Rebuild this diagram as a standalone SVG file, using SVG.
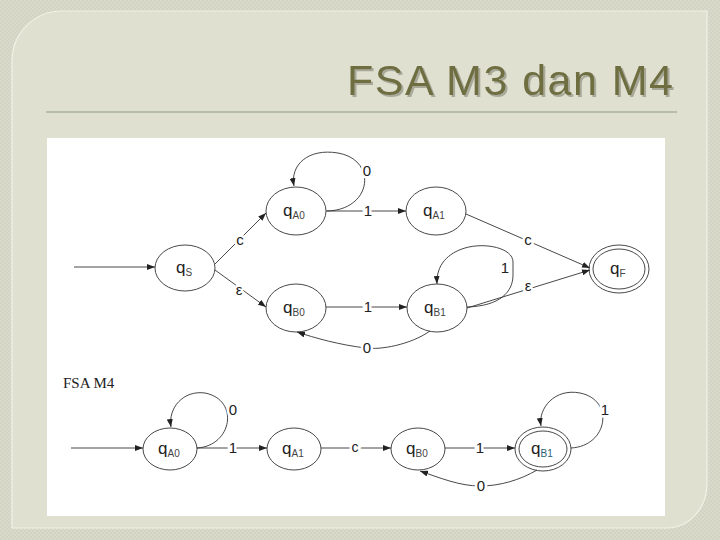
<svg xmlns="http://www.w3.org/2000/svg" width="720" height="540" viewBox="0 0 720 540">
<defs>
<pattern id="tex" width="4" height="4" patternUnits="userSpaceOnUse">
<rect width="4" height="4" fill="#d3d3c3"/>
<rect x="0" y="0" width="2" height="2" fill="#dadacb"/>
<rect x="2" y="2" width="2" height="2" fill="#dadacb"/>
</pattern>
<marker id="ah" markerUnits="userSpaceOnUse" markerWidth="8" markerHeight="6" refX="8" refY="3" orient="auto">
<path d="M0,0 L8,3 L0,6 z" fill="#222"/>
</marker>
<filter id="sh" x="-5%" y="-20%" width="110%" height="150%">
<feDropShadow dx="2" dy="2" stdDeviation="0.4" flood-color="#a9a999" flood-opacity="1"/>
</filter>
</defs>
<style>
.n{fill:none;stroke:#333;stroke-width:0.9}
.e{fill:none;stroke:#333;stroke-width:0.9;marker-end:url(#ah)}
.q{font-family:"Liberation Sans",Arial,sans-serif;font-size:17px;fill:#222}
.s{font-size:10px;fill:#444}
.t{font-family:"Liberation Sans",Arial,sans-serif;font-size:15px;fill:#222;text-anchor:middle}
.h{stroke:#fff;stroke-width:5;paint-order:stroke}
</style>
<rect width="720" height="540" fill="url(#tex)"/>
<path d="M62,11 H707 V484 A40 44 0 0 1 667,528 H12 V61 A50 50 0 0 1 62,11 Z" fill="#e0e0d1" stroke="#f2f2e4" stroke-width="1.2"/>
<g id="title">
<text x="673" y="95" text-anchor="end" font-family="Liberation Sans,Arial,sans-serif" font-size="43" textLength="326" fill="#6e6e40" filter="url(#sh)">FSA M3 dan M4</text>
</g>
<line x1="46" y1="112" x2="677" y2="112" stroke="#8c9c84" stroke-width="1.2"/>
<rect x="47" y="138" width="618" height="378" fill="#ffffff"/>

<g id="connectors">
<path class="e" d="M74,267 L155,267"/>
<path class="e" d="M215,264 L266,213"/>
<path class="e" d="M215,270 L266,307"/>
<path class="e" d="M327,211 C372,210 378,160 338,153 C308,148 290,165 294,186"/>
<path class="e" d="M326,211 L406,211"/>
<path class="e" d="M466,214 L590,268"/>
<path class="e" d="M326,307 L407,307"/>
<path class="e" d="M430,331 C410,345 380,350 366,348 C340,345 315,338 297,332"/>
<path class="e" d="M467,307 C500,306 513,292 513,275 L513,262 C513,248 485,242 465,248 C448,253 436,265 437,284"/>
<path class="e" d="M467,308 L590,270"/>

<path class="e" d="M71,448 L143,448"/>
<path class="e" d="M197,448 C232,446 240,400 205,393 C183,390 168,408 171,427"/>
<path class="e" d="M197,448 L267,448"/>
<path class="e" d="M321,448 L391,448"/>
<path class="e" d="M445,448 L515,448"/>
<path class="e" d="M537,470 C520,480 500,486 480,486 C460,486 440,478 420,471"/>
<path class="e" d="M571,448 C608,446 615,400 580,393 C555,388 538,408 541,426"/>

<text class="t h" x="240" y="245">c</text>
<text class="t h" x="239" y="295">ε</text>
<text class="t h" x="367" y="176">0</text>
<text class="t h" x="368" y="216">1</text>
<text class="t h" x="528" y="245">c</text>
<text class="t h" x="368" y="312">1</text>
<text class="t h" x="367" y="353">0</text>
<text class="t" x="505" y="273">1</text>
<text class="t h" x="528" y="291">ε</text>

<text class="t h" x="233" y="415">0</text>
<text class="t h" x="233" y="453">1</text>
<text class="t h" x="355" y="452" style="font-size:14px">c</text>
<text class="t h" x="480" y="453">1</text>
<text class="t h" x="481" y="491">0</text>
<text class="t h" x="605" y="415">1</text>
</g>

<g id="qS"><ellipse class="n" cx="185" cy="268" rx="30" ry="23"/><text class="q" x="176" y="273">q<tspan class="s" dy="3">S</tspan></text></g>
<g id="qA0"><ellipse class="n" cx="296" cy="211" rx="30" ry="24"/><text class="q" x="283" y="216">q<tspan class="s" dy="3">A0</tspan></text></g>
<g id="qB0"><ellipse class="n" cx="296" cy="308" rx="30" ry="24"/><text class="q" x="283" y="313">q<tspan class="s" dy="3">B0</tspan></text></g>
<g id="qA1"><ellipse class="n" cx="436" cy="211" rx="30" ry="24"/><text class="q" x="423" y="216">q<tspan class="s" dy="3">A1</tspan></text></g>
<g id="qB1"><ellipse class="n" cx="437" cy="308" rx="30" ry="24"/><text class="q" x="424" y="313">q<tspan class="s" dy="3">B1</tspan></text></g>
<g id="qF"><ellipse class="n" cx="619" cy="269" rx="30" ry="24"/><ellipse class="n" cx="619" cy="269" rx="26" ry="20"/><text class="q" x="610" y="274">q<tspan class="s" dy="3">F</tspan></text></g>

<text x="63" y="388" font-family="Liberation Serif,Times New Roman,serif" font-size="15" fill="#222">FSA M4</text>

<g id="m4_qA0"><ellipse class="n" cx="170" cy="449" rx="27" ry="21"/><text class="q" x="158" y="454">q<tspan class="s" dy="3">A0</tspan></text></g>
<g id="m4_qA1"><ellipse class="n" cx="294" cy="449" rx="27" ry="21"/><text class="q" x="282" y="454">q<tspan class="s" dy="3">A1</tspan></text></g>
<g id="m4_qB0"><ellipse class="n" cx="418" cy="449" rx="27" ry="21"/><text class="q" x="406" y="454">q<tspan class="s" dy="3">B0</tspan></text></g>
<g id="m4_qB1"><ellipse class="n" cx="543" cy="449" rx="28" ry="22"/><ellipse class="n" cx="543" cy="449" rx="24" ry="18"/><text class="q" x="531" y="454">q<tspan class="s" dy="3" style="fill:#2a6070">B1</tspan></text></g>
</svg>
